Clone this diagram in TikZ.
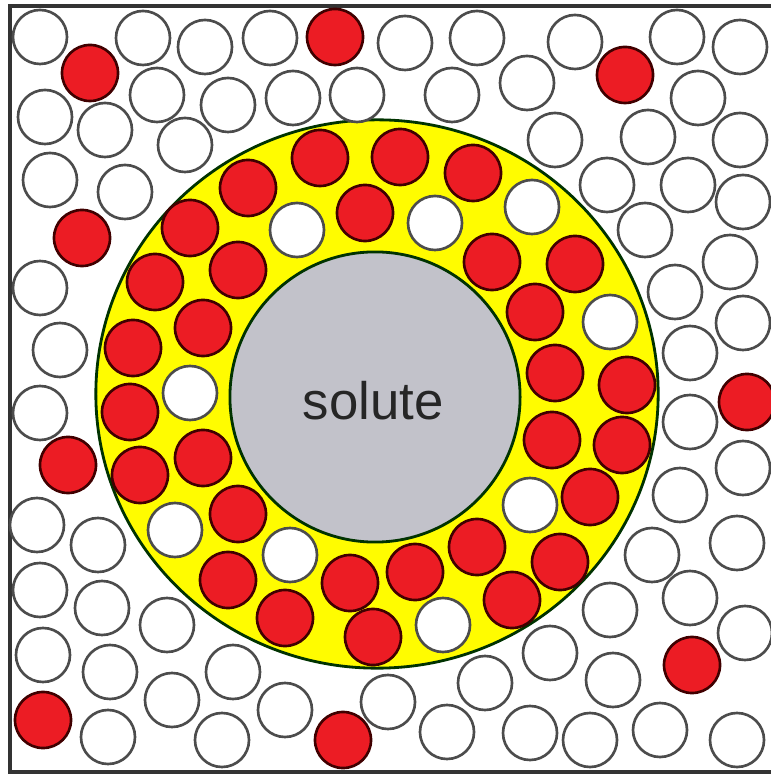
\documentclass[tikz,border=0pt]{standalone}
\usepackage{fontspec}
\newfontfamily\labelfont{Liberation Sans}
\usepackage{tikz}
\usetikzlibrary{positioning}
\usepackage{xcolor}

\definecolor{solred}{RGB}{236,28,36}
\definecolor{shellyellow}{RGB}{255,252,0}
\definecolor{solutegray}{RGB}{194,194,202}

\begin{document}
\begin{tikzpicture}[
    x=0.01cm, y=-0.01cm,
    free/.style={draw=black!70, line width=0.75pt, fill=white},
    tagged/.style={draw=black!75!red, line width=0.75pt, fill=solred},
    shell/.style={draw=black!80!green, line width=0.8pt, fill=shellyellow},
    core/.style={draw=black!80!green, line width=0.8pt, fill=solutegray}
]
    \useasboundingbox (0,0) rectangle (771,774);
    \fill[white] (0,0) rectangle (771,774);

    % box
    \draw[black!80, line width=1.2pt] (771,6) -- (10,6) -- (10,772) -- (771,772);

    % solvation shell and solute
    \draw[shell] (377,394) ellipse[x radius=2.81cm, y radius=2.74cm];
    \draw[core] (375,397) circle[radius=1.45cm];
    \node[font=\labelfont\fontsize{15}{18}\selectfont, text=black!85] (solutelabel) at (373,401) {solute};

    % bulk solvent
    \foreach \x/\y in {40/37, 143/38, 205/47, 270/38, 405/43, 477/38, 575/42, 677/37, 740/47,
        157/95, 228/105, 45/117, 105/130, 185/145, 50/180, 125/192, 293/98, 357/95, 452/95,
        527/83, 698/98, 555/140, 648/137, 740/140, 607/185, 688/185, 743/202, 645/230, 730/262,
        675/292, 743/323, 690/353, 690/422, 743/468, 680/495, 652/555, 737/543, 690/598,
        610/610, 745/633, 550/653, 613/680, 530/733, 590/740, 660/730, 737/740, 485/683,
        447/732, 388/702, 285/710, 222/740, 233/672, 172/700, 108/737, 110/672, 167/625,
        102/608, 98/545, 43/655, 40/590, 37/525, 40/413, 60/350, 40/288}
        \draw[free] (\x,\y) circle[radius=0.27cm];
    \foreach \x/\y in {90/73, 335/37, 625/75, 82/238, 68/465, 747/402, 692/665, 43/720, 343/740}
        \draw[tagged] (\x,\y) circle[radius=0.28cm];

    % shell solvent
    \foreach \x/\y in {297/230, 435/223, 532/207, 610/322, 190/393, 530/505, 290/555, 175/530, 443/625}
        \draw[free] (\x,\y) circle[radius=0.27cm];
    \foreach \x/\y in {190/228, 248/188, 320/158, 400/157, 473/173, 365/213, 492/262, 575/264,
        535/312, 555/373, 627/385, 552/440, 622/445, 590/497, 560/562, 512/600, 477/547,
        415/572, 350/583, 285/618, 373/637, 238/514, 228/580, 203/458, 140/475, 130/412,
        133/348, 203/328, 155/282, 238/270}
        \draw[tagged] (\x,\y) circle[radius=0.28cm];
\end{tikzpicture}
\end{document}
